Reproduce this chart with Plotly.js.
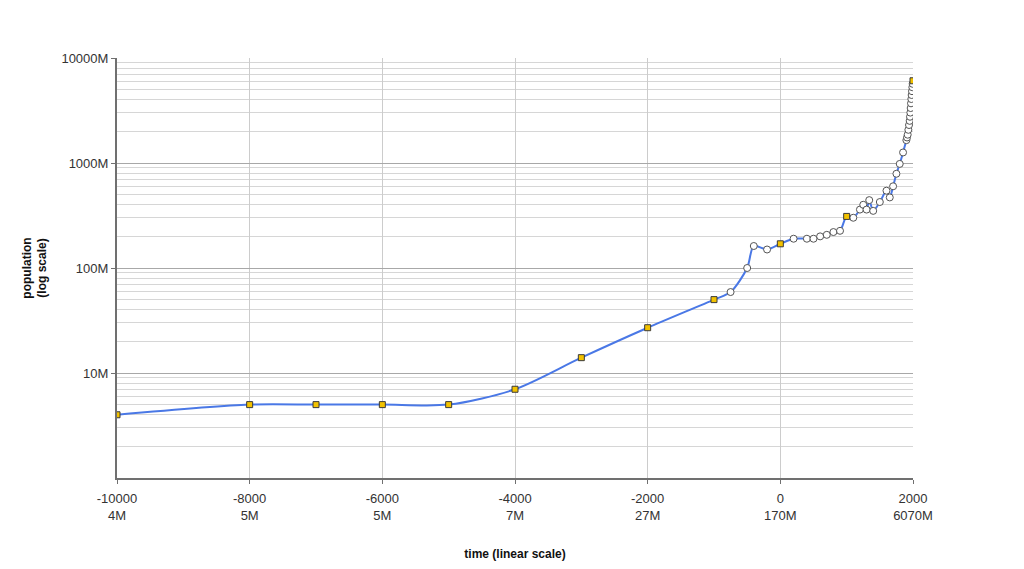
<!DOCTYPE html>
<html>
<head>
<meta charset="utf-8">
<script src="https://cdn.plot.ly/plotly-3.0.1.min.js"></script>
<style>html,body{margin:0;padding:0;background:#fff;}#chart{width:1024px;height:569px;}</style>
</head>
<body>
<div id="chart"></div>
<script>
// time (year) and world population (millions)
const years = [-10000, -8000, -7000, -6000, -5000, -4000, -3000, -2000, -1000, -750, -500, -400, -200, 0,
  200, 400, 500, 600, 700, 800, 900, 1000, 1100, 1200, 1250, 1300, 1340, 1400, 1500, 1600, 1650, 1700,
  1750, 1800, 1850, 1900, 1910, 1920, 1930, 1940, 1950, 1955, 1960, 1965, 1970, 1975, 1980, 1985, 1990, 1995, 2000];
const popM = [4, 5, 5, 5, 5, 7, 14, 27, 50, 59, 100, 162, 150, 170,
  190, 190, 190, 200, 207, 220, 226, 310, 301, 360, 400, 360, 443, 350, 425, 545, 470, 600,
  790, 980, 1260, 1650, 1750, 1860, 2070, 2300, 2520, 2756, 3020, 3335, 3700, 4068, 4440, 4831, 5270, 5674, 6070];

// axis ticks
const xTickVals = [-10000, -8000, -6000, -4000, -2000, 0, 2000];
const xTickText = ['-10000<br>4M', '-8000<br>5M', '-6000<br>5M', '-4000<br>7M', '-2000<br>27M', '0<br>170M', '2000<br>6070M'];
const yTickVals = [1e7, 1e8, 1e9, 1e10];
const yTickText = ['10M', '100M', '1000M', '10000M'];

const pop = popM.map(v => v * 1e6);
const isMillennium = years.map(y => y % 1000 === 0);
const sqX = years.filter((y, i) => isMillennium[i]);
const sqY = pop.filter((v, i) => isMillennium[i]);
const ciX = years.filter((y, i) => !isMillennium[i]);
const ciY = pop.filter((v, i) => !isMillennium[i]);

const traces = [
  {x: years, y: pop, type: 'scatter', mode: 'lines',
   line: {color: '#4a78e6', width: 2, shape: 'spline', smoothing: 0.8}, hoverinfo: 'skip'},
  {x: ciX, y: ciY, type: 'scatter', mode: 'markers',
   marker: {symbol: 'circle', size: 7, color: '#ffffff', line: {color: '#555555', width: 1}}},
  {x: sqX, y: sqY, type: 'scatter', mode: 'markers',
   marker: {symbol: 'square', size: 6, color: '#f2c200', line: {color: '#3a3a3a', width: 1}}}
];

const font = {family: 'Liberation Sans, Arial, sans-serif', size: 13, color: '#222'};

const layout = {
  width: 1024, height: 569,
  margin: {l: 117, r: 111, t: 58, b: 91},
  paper_bgcolor: '#ffffff', plot_bgcolor: '#ffffff',
  showlegend: false,
  font: font,
  xaxis: {
    range: [-10000, 2000], tickmode: 'array', tickvals: xTickVals, ticktext: xTickText,
    showgrid: true, gridcolor: '#cccccc', gridwidth: 1,
    showline: true, linecolor: '#707070', linewidth: 2,
    ticks: 'outside', ticklen: 4, tickcolor: '#707070', ticklabelstandoff: 3,
    zeroline: false, tickfont: {family: font.family, size: 13, color: '#333'},
    title: {text: '<b>time (linear scale)</b>', font: {family: font.family, size: 12, color: '#111'}, standoff: 28}
  },
  yaxis: {
    type: 'log', range: [6, 10], tickmode: 'array', tickvals: yTickVals, ticktext: yTickText,
    showgrid: true, gridcolor: '#a8a8a8', gridwidth: 1,
    showline: true, linecolor: '#707070', linewidth: 2,
    ticks: 'outside', ticklen: 4, tickcolor: '#707070',
    zeroline: false, tickfont: {family: font.family, size: 13, color: '#333'},
    minor: {dtick: 'D1', showgrid: true, gridcolor: '#d6d6d6', gridwidth: 1, ticks: ''},
    title: {text: '<b>population<br>(log scale)</b>', font: {family: font.family, size: 12, color: '#111'}, standoff: 12}
  }
};

Plotly.newPlot('chart', traces, layout, {displayModeBar: false, staticPlot: true});
</script>
</body>
</html>
